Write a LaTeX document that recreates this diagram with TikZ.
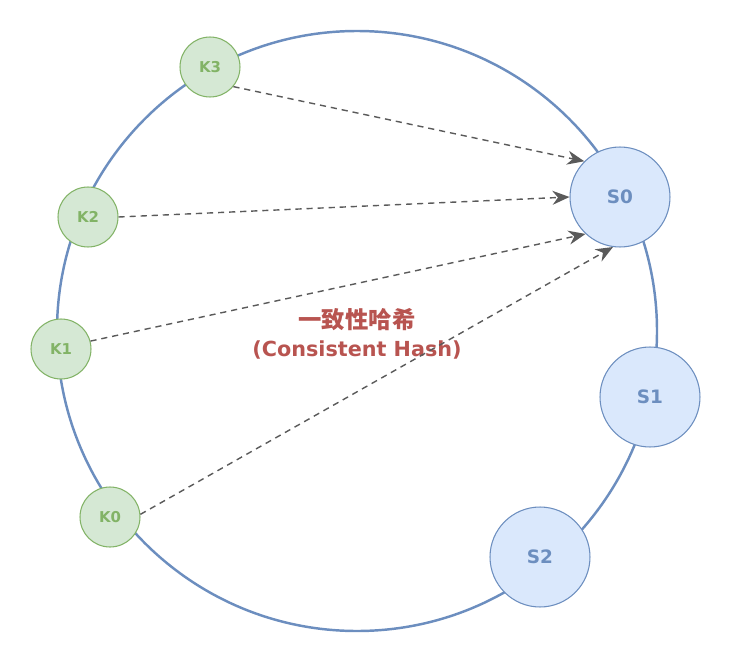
\documentclass[tikz,border=0pt]{standalone}
\usepackage{fontspec}
\setmainfont{DejaVu Sans}
\newfontfamily\cjkfont{Noto Sans CJK SC}
\definecolor{hashgreen}  {HTML}{82B366}
\definecolor{hashgfill}  {HTML}{D5E8D4}
\definecolor{hashblue}   {HTML}{6C8EBF}
\definecolor{hashbfill}  {HTML}{DAE8FC}
\definecolor{hashred}    {HTML}{B85450}
\definecolor{hashgray}   {HTML}{5A5A5A}
\usetikzlibrary{arrows.meta,positioning}
\tikzset{
  keynode/.style={circle,draw=hashgreen,fill=hashgfill,line width=0.6pt,
                  minimum size=1.2cm,inner sep=0pt,text=hashgreen,
                  font=\fontsize{8.5}{10}\selectfont\bfseries},
  srvnode/.style={circle,draw=hashblue,fill=hashbfill,line width=0.6pt,
                  minimum size=2cm,inner sep=0pt,text=hashblue,
                  font=\fontsize{10.5}{12}\selectfont\bfseries},
  ring/.style={draw=hashblue,line width=1.4pt},
  arr/.style={-{Stealth[length=3.4mm,width=2.8mm,inset=1.1mm]},
              line width=0.8pt,hashgray,dash pattern=on 3.5pt off 2.8pt},
}
\begin{document}
\begin{tikzpicture}[x=0.02cm,y=-0.02cm]
    \useasboundingbox (0,0) rectangle (731,663);
    % hash ring
    \draw[ring] (357,331) circle (300);
    % keys
    \node[keynode] (k3) at (210,67)  {K3};
    \node[keynode] (k2) at (88,217)  {K2};
    \node[keynode] (k1) at (61,349)  {K1};
    \node[keynode] (k0) at (110,517) {K0};
    % servers
    \node[srvnode] (s0) at (620,197) {S0};
    \node[srvnode] (s1) at (650,397) {S1};
    \node[srvnode] (s2) at (540,557) {S2};
    % title
    \node[text=hashred,align=center,font=\fontsize{11.8}{16}\selectfont\bfseries]
      (title) at (357,334) {{\cjkfont\fontsize{13.3}{16}\selectfont 一致性哈希}\\(Consistent Hash)};
    % key -> server
    \draw[arr] (k3.-40) -- (s0.135);
    \draw[arr] (k2.east) -- (s0.west);
    \draw[arr] (k1.15) -- (s0.227);
    \draw[arr] (k0.5) -- (s0.262);
\end{tikzpicture}
\end{document}
